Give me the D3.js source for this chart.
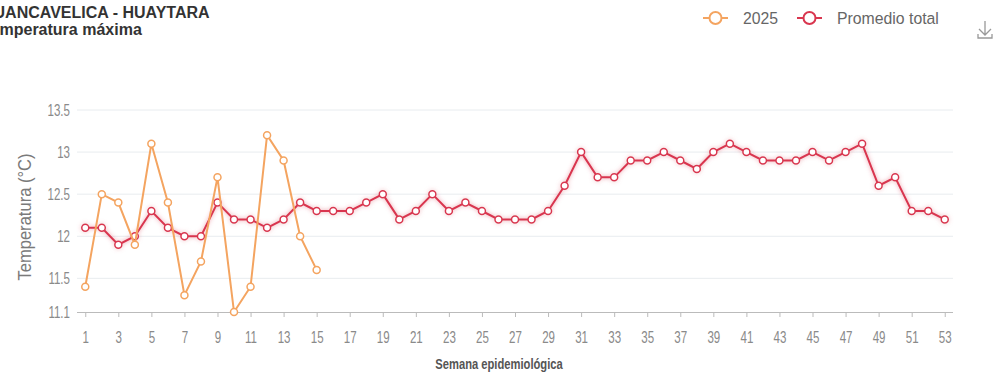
<!DOCTYPE html>
<html>
<head>
<meta charset="utf-8">
<script src="https://cdn.jsdelivr.net/npm/d3@7"></script>
<style>
html,body{margin:0;padding:0;background:#fff;}
svg{display:block;}
</style>
</head>
<body>
<svg id="chart" width="997" height="375"></svg>
<script>
const weeks = d3.range(1, 54);
const tickWeeks = d3.range(1, 54, 2);
const yTicks = [11.1, 11.5, 12, 12.5, 13, 13.5];
const series2025 = [11.4, 12.5, 12.4, 11.9, 13.1, 12.4, 11.3, 11.7, 12.7, 11.1, 11.4, 13.2, 12.9, 12.0, 11.6];
const seriesPromedio = [12.1, 12.1, 11.9, 12.0, 12.3, 12.1, 12.0, 12.0, 12.4, 12.2, 12.2, 12.1, 12.2, 12.4, 12.3, 12.3,
  12.3, 12.4, 12.5, 12.2, 12.3, 12.5, 12.3, 12.4, 12.3, 12.2, 12.2, 12.2, 12.3, 12.6, 13.0, 12.7, 12.7, 12.9, 12.9,
  13.0, 12.9, 12.8, 13.0, 13.1, 13.0, 12.9, 12.9, 12.9, 13.0, 12.9, 13.0, 13.1, 12.6, 12.7, 12.3, 12.3, 12.2];
const titleLines = ["HUANCAVELICA - HUAYTARA", "Temperatura máxima"];
const legendNames = ["2025", "Promedio total"];
const colors = ["#f4a460", "#d9364f"];

const svg = d3.select("#chart");
const font = "'Liberation Sans', Arial, sans-serif";

const x = d3.scalePoint().domain(weeks).range([77, 953]).padding(0.5);
const y = d3.scaleLinear().domain([11.1, 13.5]).range([312, 110]);

const defs = svg.append("defs");
const f = defs.append("filter").attr("id", "glow").attr("x", "-5%").attr("y", "-20%").attr("width", "110%").attr("height", "140%");
f.append("feGaussianBlur").attr("in", "SourceGraphic").attr("stdDeviation", 2.2).attr("result", "b");
f.append("feColorMatrix").attr("in", "b").attr("type", "matrix")
  .attr("values", "1 0 0 0 0  0 1 0 0 0  0 0 1 0 0  0 0 0 0.55 0").attr("result", "b2");
const fm = f.append("feMerge");
fm.append("feMergeNode").attr("in", "b2");
fm.append("feMergeNode").attr("in", "SourceGraphic");

// grid
svg.append("g").selectAll("line").data(yTicks.filter(d => d > 11.1)).join("line")
  .attr("x1", 77).attr("x2", 953)
  .attr("y1", d => y(d)).attr("y2", d => y(d))
  .attr("stroke", "#e8ecef").attr("stroke-width", 1);

// y labels
svg.append("g").selectAll("g").data(yTicks).join("g")
  .attr("transform", d => `translate(70,${y(d)})`)
  .append("text")
  .attr("transform", "scale(0.68,1)")
  .attr("text-anchor", "end").attr("dy", "0.36em")
  .attr("font-family", font).attr("font-size", 17).attr("fill", "#8a8a8a")
  .text(d => d);

// x axis
const xAxis = d3.axisBottom(x).tickValues(tickWeeks).tickSize(5).tickPadding(14);
const gx = svg.append("g").attr("transform", "translate(0,312)").call(xAxis);
gx.select(".domain").attr("stroke", "#bbb").attr("d", "M77,0.5H953");
gx.selectAll(".tick line").attr("stroke", "#bbb");
gx.selectAll(".tick text").attr("font-family", font).attr("font-size", 17).attr("fill", "#8a8a8a")
  .attr("transform", "scale(0.68,1)");

// axis titles
svg.append("text")
  .attr("transform", "translate(31,217) rotate(-90) scale(0.92,1)")
  .attr("text-anchor", "middle")
  .attr("font-family", font).attr("font-size", 18).attr("fill", "#7a7a7a")
  .text("Temperatura (°C)");
svg.append("text")
  .attr("transform", "translate(499,369) scale(0.8,1)")
  .attr("text-anchor", "middle")
  .attr("font-family", font).attr("font-size", 14).attr("font-weight", "bold").attr("fill", "#555")
  .text("Semana epidemiológica");

// title
svg.append("g").selectAll("text").data(titleLines).join("text")
  .attr("x", -18).attr("y", (d, i) => 18 + i * 17)
  .attr("font-family", font).attr("font-size", 16).attr("font-weight", "bold").attr("fill", "#333")
  .text(d => d);

// lines
const line = d3.line().x((d, i) => x(weeks[i])).y(d => y(d));
const seriesList = [series2025, seriesPromedio];
seriesList.slice().reverse().forEach((s, ri) => {
  const k = 1 - ri;
  const g = svg.append("g").attr("filter", k === 1 ? "url(#glow)" : null);
  g.append("path").datum(s).attr("d", line)
    .attr("fill", "none").attr("stroke", colors[k]).attr("stroke-width", 2);
  g.selectAll("circle").data(s).join("circle")
    .attr("cx", (d, i) => x(weeks[i])).attr("cy", d => y(d)).attr("r", 3.5)
    .attr("fill", "#fff").attr("stroke", colors[k]).attr("stroke-width", 1.5);
});

// legend
const legX = [703, 797];
const lg = svg.append("g");
legendNames.forEach((name, i) => {
  const gx0 = legX[i];
  lg.append("line").attr("x1", gx0).attr("x2", gx0 + 25).attr("y1", 18).attr("y2", 18)
    .attr("stroke", colors[i]).attr("stroke-width", 2);
  lg.append("circle").attr("cx", gx0 + 12.5).attr("cy", 18).attr("r", 6)
    .attr("fill", "#fff").attr("stroke", colors[i]).attr("stroke-width", 2);
  lg.append("text").attr("transform", `translate(${gx0 + 40},18) scale(0.93,1)`).attr("dy", "0.36em")
    .attr("font-family", font).attr("font-size", 17).attr("fill", "#666")
    .text(name);
});

// download icon
const ic = svg.append("g").attr("stroke", "#999").attr("stroke-width", 1.3).attr("fill", "none");
ic.append("path").attr("d", "M985,21V35M979,29L985,35L991,29");
ic.append("path").attr("d", "M978,34V38H992V34");
</script>
</body>
</html>
